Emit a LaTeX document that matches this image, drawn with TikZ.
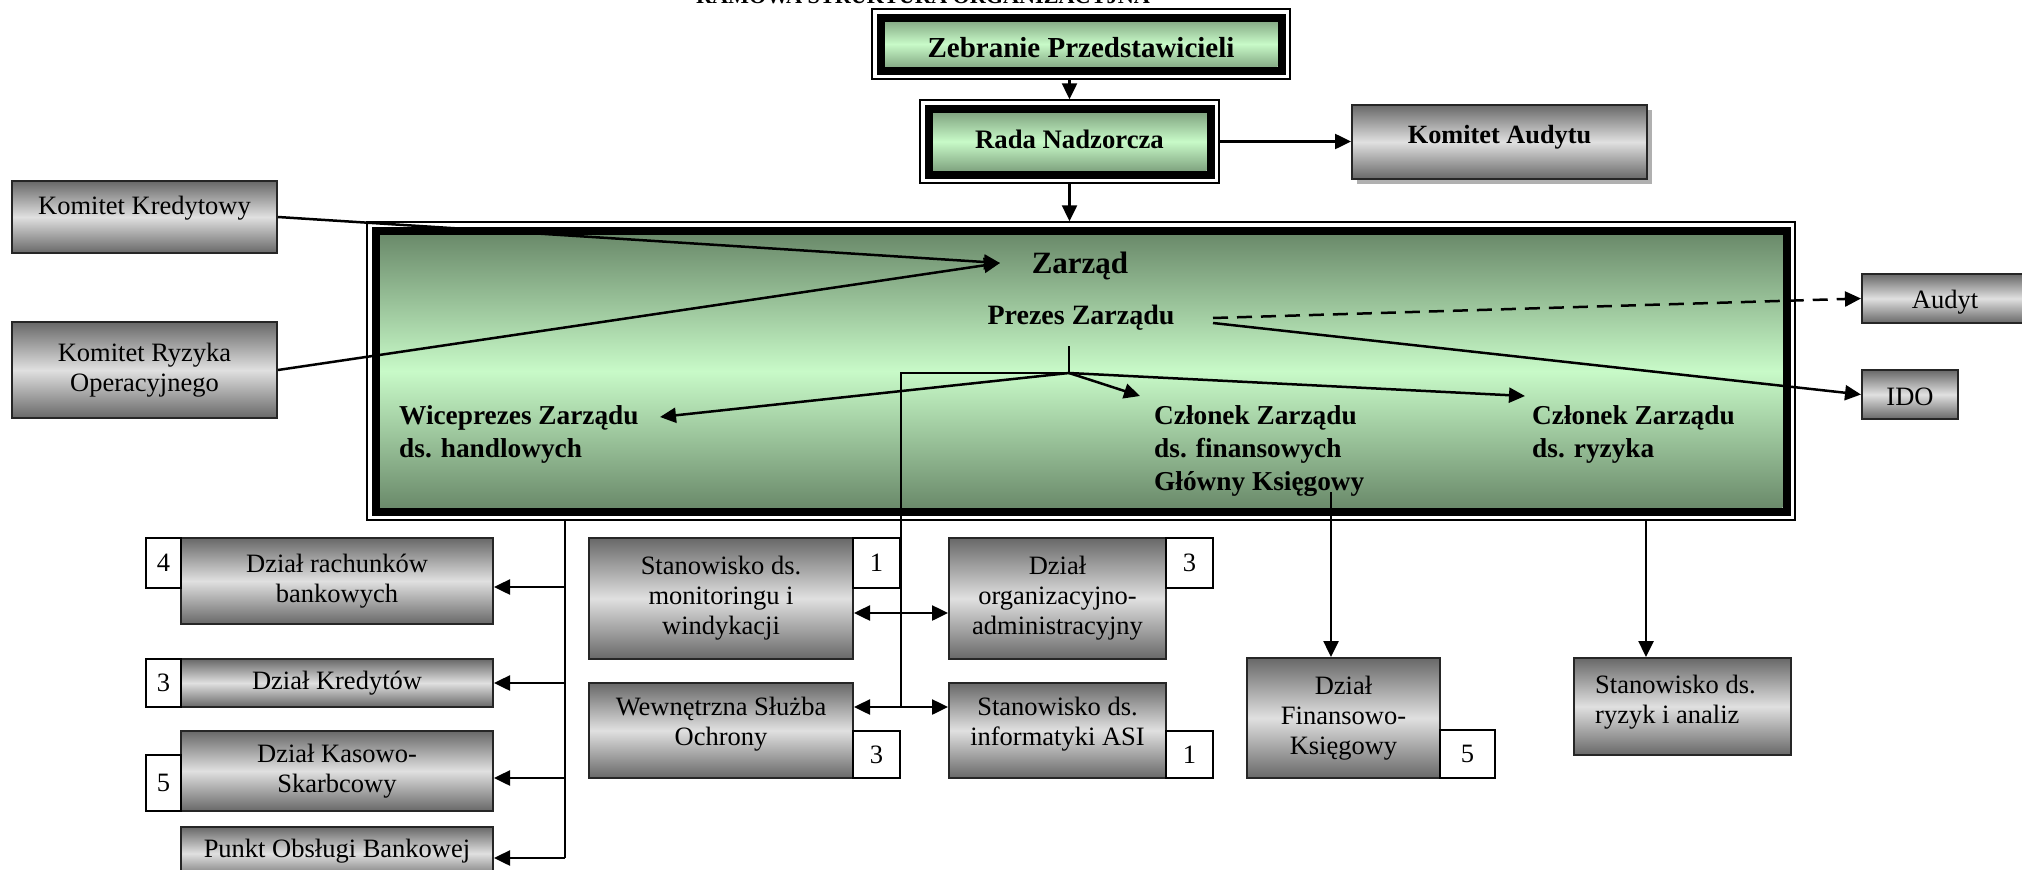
\documentclass[tikz,border=0pt]{standalone}
\usepackage{fontspec}
\setmainfont{Liberation Serif}
\usetikzlibrary{arrows.meta,calc}
\definecolor{gdark}{RGB}{98,128,98}
\definecolor{glight}{RGB}{200,250,200}
\definecolor{ydark}{RGB}{104,104,104}
\definecolor{ylight}{RGB}{224,224,224}
\definecolor{shadowgray}{RGB}{176,176,176}
\newcommand\myBody{\fontsize{26.5}{30}\selectfont}
\newcommand\myMember{\bfseries\fontsize{27.3}{33}\selectfont}
\begin{document}
\begin{tikzpicture}[x=1pt,y=-1pt,
  gbox/.style={draw=black!85, line width=2pt, top color=ydark, bottom color=ydark, middle color=ylight, inner sep=0pt, align=center, font=\myBody},
  nbox/.style={draw, line width=2pt, fill=white, inner sep=0pt, font=\myBody},
  dframe/.style={draw, line width=1.5pt, inner sep=0pt, align=center,
    path picture={
      \shade[top color=gdark,bottom color=gdark,middle color=glight]
        ([shift={(12.5pt,-12.5pt)}]path picture bounding box.north west) rectangle ([shift={(-12.5pt,12.5pt)}]path picture bounding box.south east);
      \draw[line width=8pt] ([shift={(8.5pt,-8.5pt)}]path picture bounding box.north west) rectangle ([shift={(-8.5pt,8.5pt)}]path picture bounding box.south east);
    }},
  txt/.style={inner sep=0pt, anchor=base},
  ln/.style={line width=2.5pt},
  arr/.style={line width=2.5pt, -{Triangle[length=16pt,width=15pt]}},
  darr/.style={line width=2.5pt, {Triangle[length=16pt,width=15pt]}-{Triangle[length=16pt,width=15pt]}},
  memb/.style={inner sep=0pt, align=left, font=\myMember, anchor=north west}
]
\useasboundingbox (0,0) rectangle (2022,870);

% title (cut off at the top of the page, as in the reference)
\node[txt, font=\bfseries\fontsize{22.2}{24}\selectfont] (title) at (923,4) {RAMOWA STRUKTURA ORGANIZACYJNA};

% top boxes
\node[dframe, minimum width=418pt, minimum height=70pt] (zeb) at (1081,44) {};
\node[txt, font=\bfseries\fontsize{29}{32}\selectfont] (zebt) at (1081,57) {Zebranie Przedstawicieli};
\node[dframe, minimum width=299pt, minimum height=83pt] (rada) at (1069.5,141.5) {};
\node[txt, font=\bfseries\fontsize{26.7}{30}\selectfont] (radat) at (1069.5,148) {Rada Nadzorcza};
\fill[shadowgray] (1357,110) rectangle (1652,184);
\node[gbox, minimum width=295pt, minimum height=74pt] (ka) at (1499.5,142) {};
\node[txt, font=\bfseries\fontsize{26.3}{30}\selectfont] (kat) at (1499.5,143) {Komitet Audytu};

% Zarzad frame
\node[dframe, minimum width=1428pt, minimum height=298pt] (zarzad) at (1081,371) {};
\node[txt, font=\bfseries\fontsize{31}{34}\selectfont] (zt) at (1080,273) {Zarząd};
\node[txt, font=\bfseries\fontsize{28}{32}\selectfont] (prez) at (1081,324) {Prezes Zarządu};
\node[memb] (wice) at (399,405) {Wiceprezes Zarządu\\ds. handlowych};
\node[memb] (cfin) at (1154,405) {Członek Zarządu\\ds. finansowych\\Główny Księgowy};
\node[memb] (cryz) at (1532,405) {Członek Zarządu\\ds. ryzyka};

% left committees
\node[gbox, minimum width=265pt, minimum height=72pt] (kk) at (144.5,217) {};
\node[inner sep=0pt, font=\myBody] (kkt) at (144.5,208) {Komitet Kredytowy};
\node[gbox, minimum width=265pt, minimum height=96pt] (kr) at (144.5,370) {Komitet Ryzyka\\Operacyjnego};

% right boxes
\node[gbox, minimum width=166pt, minimum height=49pt] (audyt) at (1945,298.5) {};
\node[txt, font=\myBody] (audytt) at (1945,308) {Audyt};
\node[gbox, minimum width=96pt, minimum height=49pt] (ido) at (1910,394.5) {};
\node[txt, font=\myBody] (idot) at (1910,405) {IDO};

% left column
\node[gbox, minimum width=312pt, minimum height=86pt] (rach) at (337,581) {Dział rachunków\\bankowych};
\node[nbox, minimum width=35pt, minimum height=50pt] (n4) at (163.5,563) {4};
\node[gbox, minimum width=312pt, minimum height=48pt] (kred) at (337,683) {Dział Kredytów};
\node[nbox, minimum width=35pt, minimum height=48pt] (n3a) at (163.5,683) {3};
\node[gbox, minimum width=312pt, minimum height=80pt] (kas) at (337,771) {Dział Kasowo-\\Skarbcowy};
\node[nbox, minimum width=35pt, minimum height=56pt] (n5a) at (163.5,783) {5};
\node[gbox, minimum width=312pt, minimum height=53pt] (pob) at (337,853.5) {};
\node[inner sep=0pt, font=\myBody] (pobt) at (337,851) {Punkt Obsługi Bankowej};

% middle group
\node[gbox, minimum width=264pt, minimum height=121pt] (mon) at (721,598.5) {Stanowisko ds.\\monitoringu i\\windykacji};
\node[nbox, minimum width=47pt, minimum height=50pt] (n1a) at (876.5,563) {1};
\node[gbox, minimum width=217pt, minimum height=121pt] (org) at (1057.5,598.5) {Dział\\organizacyjno-\\administracyjny};
\node[nbox, minimum width=47pt, minimum height=50pt] (n3b) at (1189.5,563) {3};
\node[gbox, minimum width=264pt, minimum height=95pt] (wew) at (721,730.5) {};
\node[inner sep=0pt, align=center, font=\myBody] (wewt) at (721,724) {Wewnętrzna Służba\\Ochrony};
\node[nbox, minimum width=47pt, minimum height=47pt] (n3c) at (876.5,754.5) {3};
\node[gbox, minimum width=217pt, minimum height=95pt] (asi) at (1057.5,730.5) {};
\node[inner sep=0pt, align=center, font=\myBody] (asit) at (1057.5,724) {Stanowisko ds.\\informatyki ASI};
\node[nbox, minimum width=47pt, minimum height=47pt] (n1b) at (1189.5,754.5) {1};

% right group
\node[gbox, minimum width=193pt, minimum height=120pt] (fin) at (1343.5,718) {Dział\\Finansowo-\\Księgowy};
\node[nbox, minimum width=55pt, minimum height=48pt] (n5b) at (1467.5,754) {5};
\node[gbox, minimum width=217pt, minimum height=97pt] (ryz) at (1682.5,706.5) {};
\node[inner sep=0pt, align=left, anchor=west, font=\myBody] (ryzt) at (1595,702) {Stanowisko ds.\\ryzyk i analiz};

% coordinates
\coordinate (zin) at (1000,263);
\coordinate (pz0) at (1069,346);
\coordinate (pz) at (1069,373);
\coordinate (mt0) at (901,373);
\coordinate (mt1) at (901,613);
\coordinate (mt2) at (901,707);
\coordinate (wpin) at (660,417);
\coordinate (cfin_in) at (1140,396);
\coordinate (cryz_in) at (1525,396);
\coordinate (pe1) at (1213,318);
\coordinate (pe2) at (1213,323);
\coordinate (lt0) at (565,520);
\coordinate (lt1) at (565,587);
\coordinate (lt2) at (565,683);
\coordinate (lt3) at (565,778);
\coordinate (lt4) at (565,858);
\coordinate (f0) at (1331,492);
\coordinate (r0) at (1646,520);

% connectors
\draw[arr] (rada.north |- zeb.south) -- (rada.north);
\draw[arr] (rada.south) -- (rada.south |- zarzad.north);
\draw[arr] (rada.east) -- (rada.east -| ka.west);
\draw[arr] (kk.east) -- (zin);
\draw[arr] (kr.east) -- (zin);
\draw[ln] (pz0) -- (pz) -- (mt0) -- (mt2);
\draw[arr] (pz) -- (wpin);
\draw[arr] (pz) -- (cfin_in);
\draw[arr] (pz) -- (cryz_in);
\draw[arr, dash pattern=on 15pt off 9pt] (pe1) -- (audyt.west);
\draw[arr] (pe2) -- (ido.west);
\draw[darr] (mt1 -| mon.east) -- (mt1 -| org.west);
\draw[darr] (mt2 -| wew.east) -- (mt2 -| asi.west);
\draw[ln] (lt0) -- (lt4);
\draw[arr] (lt1) -- (lt1 -| rach.east);
\draw[arr] (lt2) -- (lt2 -| kred.east);
\draw[arr] (lt3) -- (lt3 -| kas.east);
\draw[arr] (lt4) -- (lt4 -| pob.east);
\draw[arr] (f0) -- (f0 |- fin.north);
\draw[arr] (r0) -- (r0 |- ryz.north);
\end{tikzpicture}
\end{document}
